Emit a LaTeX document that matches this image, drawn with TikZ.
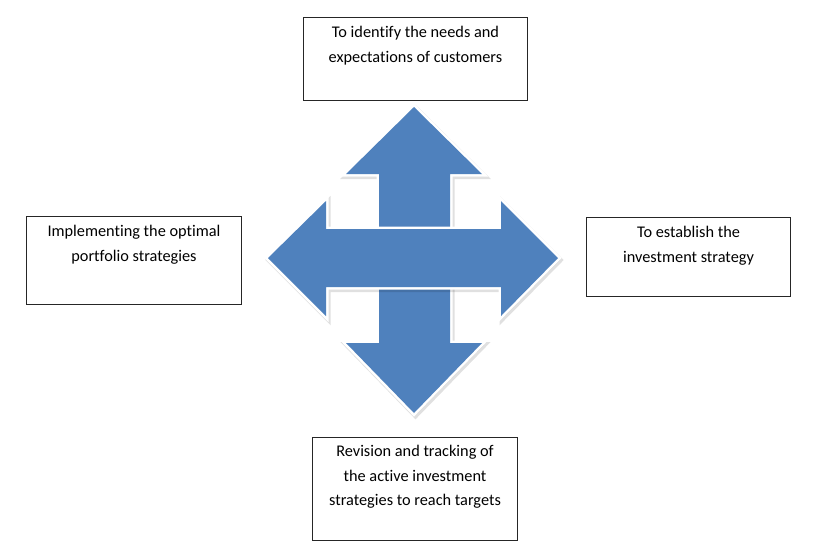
\documentclass[tikz,border=0pt]{standalone}
\usepackage{fontspec}
\setmainfont{Carlito}[RawFeature={-liga;-clig}]
\definecolor{arrowblue}{HTML}{4F81BD}
\tikzset{
  box/.style={draw=black!85, line width=1pt, fill=white, inner sep=0pt, anchor=north west},
  txt/.style={align=center, inner sep=0pt, anchor=north, font=\fontsize{16.3}{24.5}\selectfont},
  arrowfill/.style={fill=arrowblue},
  arrowedge/.style={draw=white, line width=5pt, line join=miter},
  arrowshadow/.style={draw=black, fill=black, opacity=.12, line width=6pt, line join=miter}
}
\begin{document}
\begin{tikzpicture}[x=1pt, y=-1pt]
  \useasboundingbox[fill=white] (0,0) rectangle (817,558);
  % boxes
  \node[box, minimum width=224pt, minimum height=83pt] (top) at (303,17) {};
  \node[txt] (toptxt) at ([yshift=-9pt]top.north) {To identify the needs and\\expectations of customers};
  \node[box, minimum width=215pt, minimum height=88pt] (left) at (26,216) {};
  \node[txt] (lefttxt) at ([yshift=-9pt]left.north) {Implementing the optimal\\portfolio strategies};
  \node[box, minimum width=204pt, minimum height=79pt] (right) at (586,217) {};
  \node[txt] (righttxt) at ([yshift=-9pt]right.north) {To establish the\\investment strategy};
  \node[box, minimum width=205pt, minimum height=103pt] (bottom) at (312,437) {};
  \node[txt] (bottomtxt) at ([yshift=-8pt]bottom.north) {Revision and tracking of\\the active investment\\strategies to reach targets};
  % vertical double arrow
  \def\vpath{(414,107) -- (482,174) -- (450,174) -- (450,343) -- (482,343) -- (414,413) -- (346,343) -- (379,343) -- (379,174) -- (346,174) -- cycle}
  \def\hpath{(268,258) -- (326,201) -- (326,229) -- (501,229) -- (501,201) -- (558,258) -- (501,316) -- (501,287) -- (326,287) -- (326,316) -- cycle}
  \begin{scope}[shift={(1.5,2)}]
    \path[arrowshadow] \vpath;
  \end{scope}
  \path[arrowedge] \vpath;
  \path[arrowfill] \vpath;
  \begin{scope}[shift={(1.5,2)}]
    \path[arrowshadow] \hpath;
  \end{scope}
  \path[arrowedge] \hpath;
  \path[arrowfill] \hpath;
\end{tikzpicture}
\end{document}
